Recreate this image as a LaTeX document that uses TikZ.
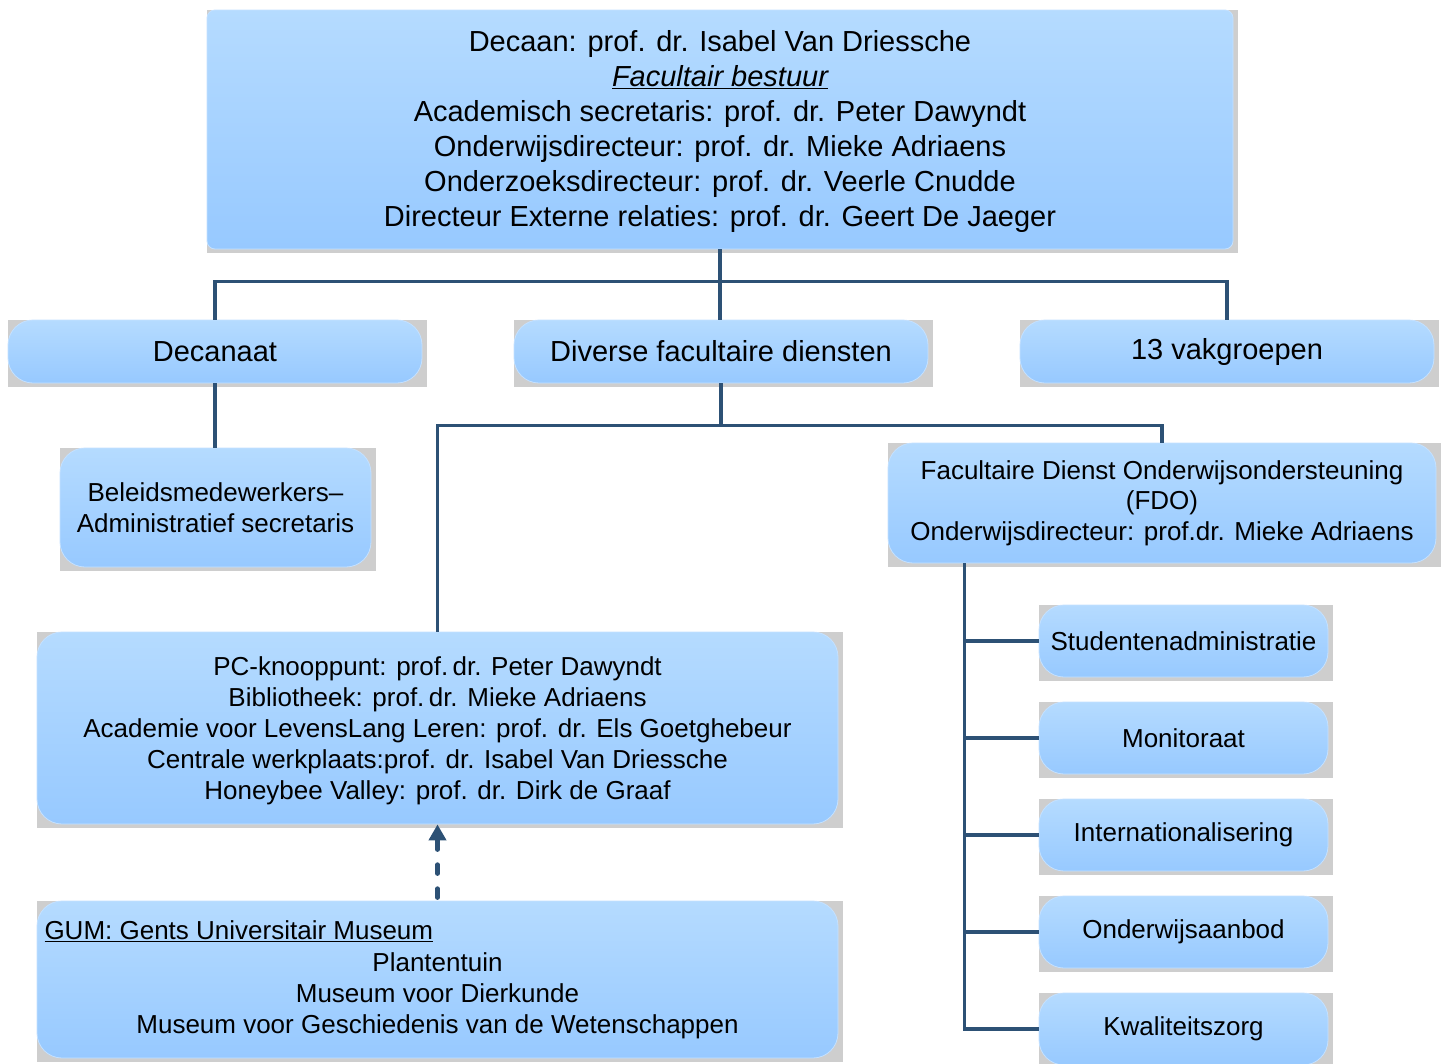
\documentclass[tikz,border=0pt]{standalone}
\usepackage{fontspec}
\setmainfont{Liberation Sans}
\usetikzlibrary{backgrounds,arrows.meta,calc}
\definecolor{boxtop}{HTML}{B5DBFF}
\definecolor{boxbot}{HTML}{97C9FF}
\definecolor{boxedge}{HTML}{C4E1FF}
\definecolor{shadowgrey}{HTML}{CECECE}
\definecolor{linkblue}{HTML}{2D5175}
\newcommand{\boxshade}[1]{\fill[shadowgrey] (#1.north west) rectangle ([xshift=5pt,yshift=-4pt]#1.south east);}
\begin{document}
\begin{tikzpicture}[x=1pt,y=-1pt,
  orgbox/.style={rectangle, rounded corners=25pt, top color=boxtop, bottom color=boxbot,
    draw=boxedge, line width=0.8pt, inner sep=0pt, align=center, text=black},
  link/.style={draw=linkblue, line width=3.6pt},
  bigtext/.style={font=\fontsize{29}{35}\selectfont},
  midtext/.style={font=\fontsize{26}{31}\selectfont},
  fdotext/.style={font=\fontsize{26}{30.5}\selectfont}]
\useasboundingbox (0,0) rectangle (1443,1063);

% boxes
\node[orgbox, bigtext, rounded corners=8pt, minimum width=1026pt, minimum height=239pt] (top) at (720,129.5)
 {\rule{0pt}{4pt}\\[-14pt]Decaan: prof. dr. Isabel Van Driessche\\
  \underline{\itshape Facultair bestuur}\\
  Academisch secretaris: prof. dr. Peter Dawyndt\\
  Onderwijsdirecteur: prof. dr. Mieke Adriaens\\
  Onderzoeksdirecteur: prof. dr. Veerle Cnudde\\
  Directeur Externe relaties: prof. dr. Geert De Jaeger};

\node[orgbox, bigtext, minimum width=414pt, minimum height=63pt] (dec) at (215,351.5) {Decanaat};
\node[orgbox, bigtext, minimum width=414pt, minimum height=63pt] (div) at (721,351.5) {Diverse facultaire diensten};
\node[orgbox, bigtext, minimum width=414pt, minimum height=63pt] (vak) at (1227,351.5) {13 vakgroepen};

\node[orgbox, midtext, minimum width=311pt, minimum height=119pt] (bel) at (215.5,507.5)
 {Beleidsmedewerkers–\\Administratief secretaris};

\node[orgbox, fdotext, minimum width=548pt, minimum height=120pt] (fdo) at (1162,503)
 {Facultaire Dienst Onderwijsondersteuning\\(FDO)\\Onderwijsdirecteur: prof.dr. Mieke Adriaens};

\node[orgbox, midtext, minimum width=801pt, minimum height=192pt] (pc) at (437.5,728)
 {\rule{0pt}{6pt}\\[-12pt]PC-knooppunt: prof.\,dr. Peter Dawyndt\\
  Bibliotheek: prof.\,dr. Mieke Adriaens\\
  Academie voor LevensLang Leren: prof. dr. Els Goetghebeur\\
  Centrale werkplaats:prof. dr. Isabel Van Driessche\\
  Honeybee Valley: prof. dr. Dirk de Graaf};

\node[orgbox, midtext, minimum width=801pt, minimum height=157pt] (gum) at (437.5,979.5)
 {\makebox[786pt][l]{\underline{GUM: Gents Universitair Museum}}\\[1pt]
  Plantentuin\\
  Museum voor Dierkunde\\
  Museum voor Geschiedenis van de Wetenschappen};

\node[orgbox, midtext, minimum width=289pt, minimum height=72pt] (sa) at (1183.5,641) {Studentenadministratie};
\node[orgbox, midtext, minimum width=289pt, minimum height=72pt] (mo) at (1183.5,738) {Monitoraat};
\node[orgbox, midtext, minimum width=289pt, minimum height=72pt] (in) at (1183.5,835) {Internationalisering};
\node[orgbox, midtext, minimum width=289pt, minimum height=72pt] (oa) at (1183.5,932) {Onderwijsaanbod};
\node[orgbox, midtext, minimum width=289pt, minimum height=72pt] (kz) at (1183.5,1029) {Kwaliteitszorg};

\begin{scope}[on background layer]
\foreach \b in {top,dec,div,vak,bel,fdo,pc,gum,sa,mo,in,oa,kz} {\boxshade{\b}}
\end{scope}

% connectors
\draw[link] (top.south) -- ++(0,32) coordinate (tj) -| (dec.north);
\draw[link] (tj) -| (vak.north);
\draw[link] (tj) -- (tj |- div.north);
\draw[link] (dec.south) -- (dec.south |- bel.north);
\draw[link] (div.south) -- ++(0,42) coordinate (dj) -| (pc.north);
\draw[link] (dj) -| (fdo.north);
\path (fdo.south west) ++(77,0) coordinate (spinetop);
\draw[link] (spinetop) |- (kz.west);
\foreach \b in {sa,mo,in,oa} {\draw[link] (spinetop) |- (\b.west);}
\draw[link, line width=4.5pt, dash pattern=on 9pt off 15pt, line cap=round, -{Triangle[length=16pt,width=17pt]}] ([yshift=3pt]gum.north) -- (pc.south);
\end{tikzpicture}
\end{document}
